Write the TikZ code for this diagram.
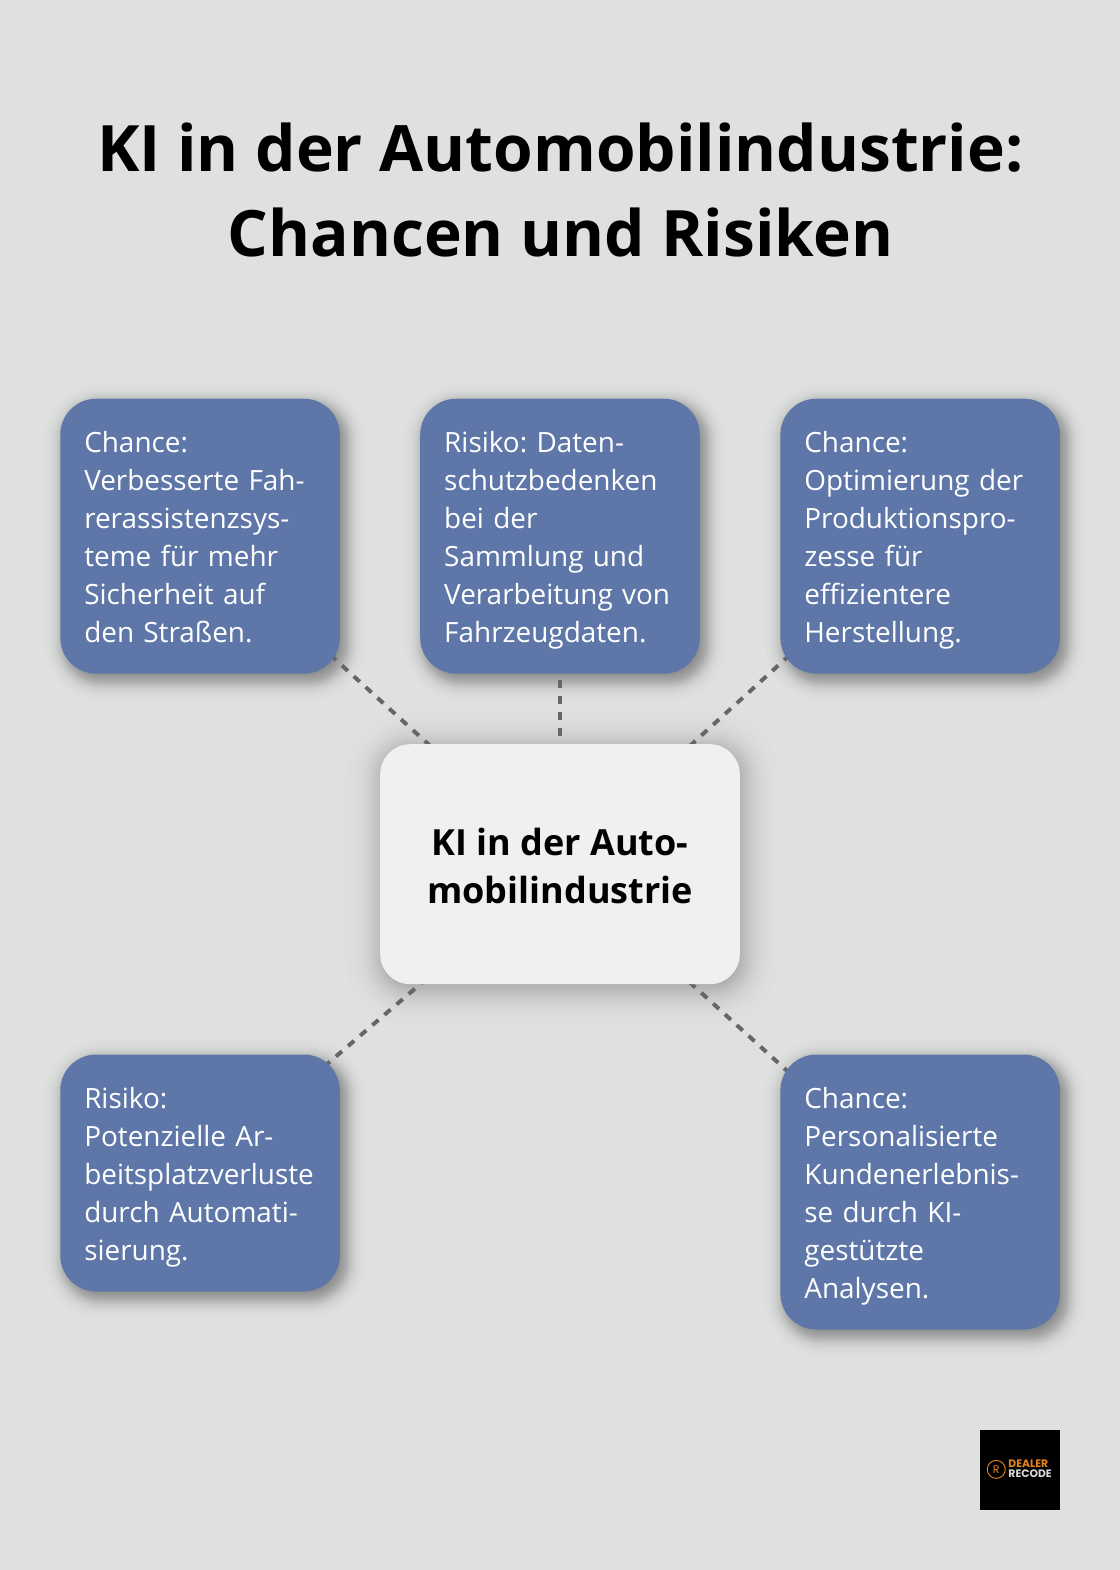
\documentclass[tikz,border=0pt]{standalone}
\usepackage{fontspec}
\setmainfont{Open Sans}
\frenchspacing
\newfontfamily\logofont{Poppins}
\usetikzlibrary{backgrounds}
\definecolor{pagebg}{HTML}{DFE1E0}
\definecolor{boxblue}{HTML}{5E77A8}
\definecolor{boxlight}{HTML}{EFF0F2}
\definecolor{linkgray}{HTML}{666666}
\definecolor{logoorange}{HTML}{E8821E}
\newcommand{\softshadow}[9]{%
  \foreach \z in {-2.24,-1.81,-1.555,-1.37,-1.22,-1.09,-0.98,-0.885,-0.79,-0.71,-0.63,-0.556,-0.485,-0.416,-0.35,-0.285,-0.22,-0.157,-0.094,-0.031,0.031,0.094,0.157,0.22,0.285,0.35,0.416,0.485,0.556,0.63,0.71,0.79,0.885,0.98,1.09,1.22,1.37,1.555,1.81,2.24}{%
    \pgfmathsetmacro{\g}{\z*#8}%
    \fill[black,fill opacity=#9,rounded corners={max(#5+\g,2)*1pt}]
      ({#1+#6-\g},{#2+#7-\g}) rectangle ({#3+#6+\g},{#4+#7+\g});
  }%
}
\newcommand{\tb}{\rule{0pt}{30pt}}
\newcommand{\be}{\rule[-7pt]{0pt}{7pt}}
\newcommand{\bodysetup}{\fontsize{27.9pt}{38pt}\selectfont\spaceskip=5.8pt\relax}
\tikzset{
  x=1.0013pt,y=-1.0013pt,
  chancebox/.style={fill=boxblue,text=white,rounded corners=36pt,minimum width=279.6pt,
    inner xsep=24pt,inner ysep=0pt,text width=231.6pt,align=left,anchor=center,
    font=\bodysetup},
  centerbox/.style={fill=boxlight,text=black,rounded corners=30pt,minimum width=359.6pt,minimum height=240pt,
    inner sep=0pt,align=center,font=\fontsize{36pt}{48pt}\selectfont\bfseries},
  titletext/.style={align=center,inner sep=0pt,text=black,font=\fontsize{64pt}{85.5pt}\selectfont\bfseries},
  linkline/.style={draw=linkgray,line width=4pt,dash pattern=on 8pt off 8pt},
}
\begin{document}
\begin{tikzpicture}
\useasboundingbox (0,0) rectangle (1118.5,1568);
\node[titletext] (title) at (559.7,190) {KI in der Automobilindustrie:\\Chancen und Risiken};
\node[chancebox,minimum height=275pt] (b1) at (199.8,535.5) {\tb Chance:\\Verbesserte Fah-\\rerassistenzsys-\\teme für mehr\\Sicherheit auf\\den Straßen.\be};
\node[chancebox,minimum height=275pt] (b2) at (559.3,535.5) {\tb Risiko: Daten-\\schutzbedenken\\bei der\\Sammlung und\\Verarbeitung von\\Fahrzeugdaten.\be};
\node[chancebox,minimum height=275pt] (b3) at (919,535.5) {\tb Chance:\\Optimierung der\\Produktionspro-\\zesse für\\effizientere\\Herstellung.\be};
\node[centerbox] (c) at (559.3,863.1) {\rule{0pt}{30pt}KI in der Auto-\\mobilindustrie};
\node[chancebox,minimum height=237pt] (b4) at (199.8,1171.5) {\tb Risiko:\\Potenzielle Ar-\\beitsplatzverluste\\durch Automati-\\sierung.\be};
\node[chancebox,minimum height=275pt] (b5) at (919,1190.5) {\tb Chance:\\Personalisierte\\Kundenerlebnis-\\se durch KI-\\gestützte\\Analysen.\be};
\fill[black] (978.5,1428) rectangle (1058.5,1508);
\node[circle,draw=logoorange,line width=0.9pt,minimum size=18pt,inner sep=0pt,text=logoorange,font=\logofont\fontsize{11pt}{11pt}\selectfont] (logomark) at (995,1467.5) {R};
\node[anchor=west,inner sep=0pt,align=left,font=\logofont\bfseries\fontsize{10.8pt}{9.6pt}\selectfont] (logotext) at (1007,1467) {\textcolor{logoorange}{DEALER}\\\textcolor{white!85!black}{RECODE}};
\begin{scope}[on background layer]
  \fill[pagebg] (0,0) rectangle (1120,1570);
  \softshadow{60}{398}{339.6}{673}{36}{5}{6}{9}{0.012}
  \softshadow{419.5}{398}{699.1}{673}{36}{5}{6}{9}{0.012}
  \softshadow{779.2}{398}{1058.8}{673}{36}{5}{6}{9}{0.012}
  \softshadow{60}{1053}{339.6}{1290}{36}{5}{6}{9}{0.012}
  \softshadow{779.2}{1053}{1058.8}{1328}{36}{5}{6}{9}{0.012}
  \softshadow{379.5}{743.1}{739.1}{983.1}{30}{2}{4}{16}{0.0065}
  \path[linkline] (b1.center) -- (c.center);
  \path[linkline] (b2.center) -- (c.center);
  \path[linkline] (b3.center) -- (c.center);
  \path[linkline,dash phase=13pt] (b4.center) -- (c.center);
  \path[linkline] (b5.center) -- (c.center);
\end{scope}
\end{tikzpicture}
\end{document}
